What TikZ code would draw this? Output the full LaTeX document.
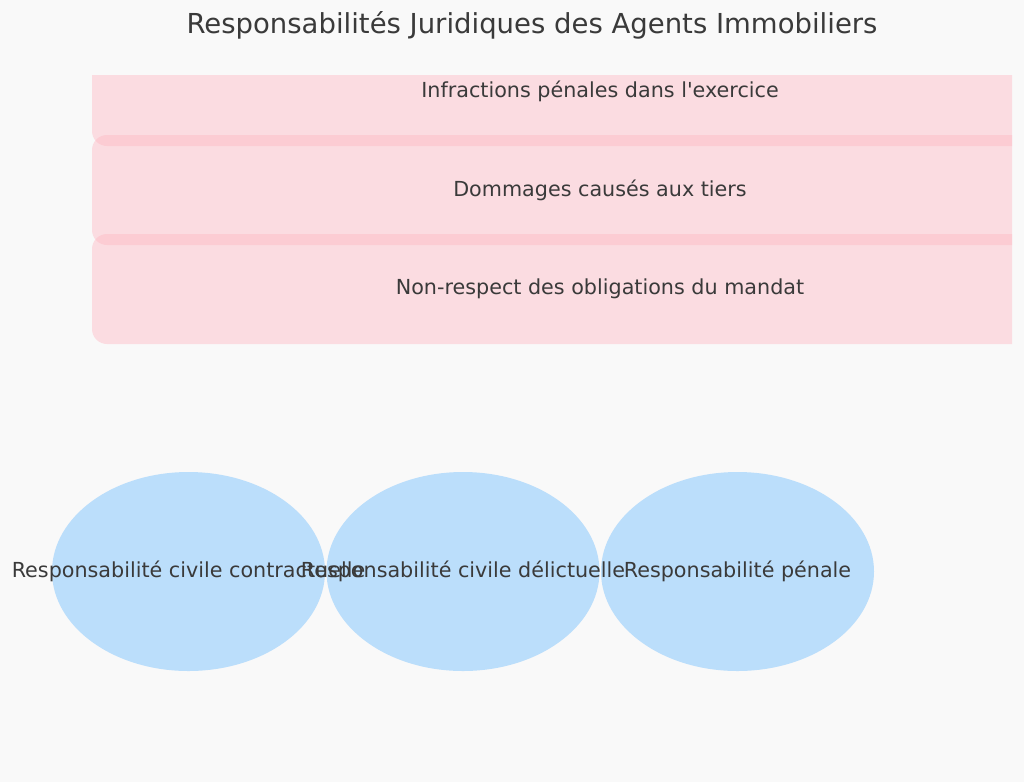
\documentclass[tikz,border=0pt]{standalone}
\usepackage{fontspec}
\setmainfont{DejaVu Sans}[Ligatures=TeXOff]
\usetikzlibrary{shapes.geometric}

\definecolor{pagebg}{HTML}{F9F9F9}
\definecolor{inkgray}{HTML}{3A3A3A}
\definecolor{bandpink}{RGB}{255,182,193}
\definecolor{discblue}{HTML}{BBDEFB}

\tikzset{
  band/.style={rectangle, rounded corners=15pt, fill=bandpink, fill opacity=0.42,
    text opacity=1, text=inkgray, minimum width=1016pt, minimum height=110pt,
    inner sep=0pt, font=\fontsize{20.7}{24}\selectfont},
  disc/.style={ellipse, fill=discblue, minimum width=273pt, minimum height=199pt,
    inner sep=0pt},
  disclabel/.style={text=inkgray, inner sep=0pt, font=\fontsize{20.7}{24}\selectfont},
}

\begin{document}
\begin{tikzpicture}[x=1pt, y=-1pt]
  \fill[pagebg] (0,0) rectangle (1024,782);
  \useasboundingbox (0,0) rectangle (1024,782);

  \node[text=inkgray, font=\fontsize{27.5}{32}\selectfont] (title) at (532,25)
    {Responsabilités Juridiques des Agents Immobiliers};

  % bandes (coupees par le cadre)
  \begin{scope}
    \clip (0,75) rectangle (1012,782);
    \node[band] (b1) at (600,91) {Infractions pénales dans l'exercice};
    \node[band] (b2) at (600,190) {Dommages causés aux tiers};
    \node[band] (b3) at (600,289) {Non-respect des obligations du mandat};
  \end{scope}

  % ellipses
  \node[disc] (r1) at (188.5,571.5) {};
  \node[disc] (r2) at (463,571.5) {};
  \node[disc] (r3) at (737.5,571.5) {};
  \node[disclabel] (t1) at (r1) {Responsabilité civile contractuelle};
  \node[disclabel] (t2) at (r2) {Responsabilité civile délictuelle};
  \node[disclabel] (t3) at (r3) {Responsabilité pénale};
\end{tikzpicture}
\end{document}
